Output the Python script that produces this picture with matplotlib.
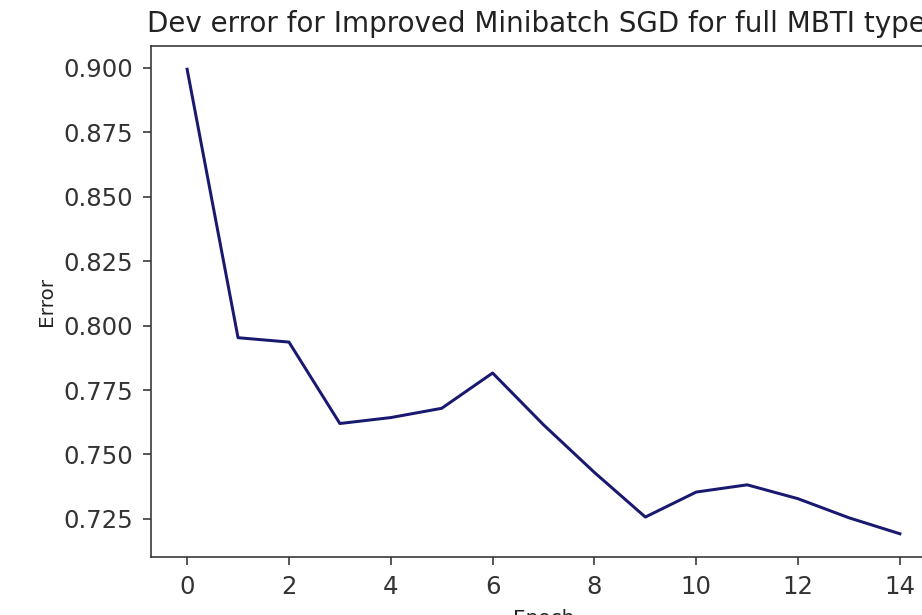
import matplotlib
matplotlib.use("Agg")
import matplotlib.pyplot as plt

# dev error per epoch
epochs = list(range(15))
dev_error = [0.8995, 0.7953, 0.7936, 0.7620, 0.7643, 0.7679, 0.7816, 0.7615,
             0.7430, 0.7257, 0.7354, 0.7382, 0.7328, 0.7254, 0.7192]

DPI = 144
fig = plt.figure(figsize=(922 / DPI, 615 / DPI), dpi=DPI)
# the reference is a crop, so the axes run past the right edge of the figure
ax = fig.add_axes([0.1643, 0.0943, 0.8504, 0.8309])

ax.plot(epochs, dev_error, color="midnightblue")
ax.set_title("Dev error for Improved Minibatch SGD for full MBTI types", fontsize=13.9,
             color="#222222", pad=7)
ax.set_xlabel("Epoch", fontsize=10, labelpad=5, color="#222222")
ax.set_ylabel("Error", fontsize=10, color="#222222")
ax.tick_params(labelsize=12.2, color="#333333", labelcolor="#333333", length=4, pad=5)
for sp in ax.spines.values():
    sp.set_color("#333333")

fig.savefig("out.png", dpi=DPI)
